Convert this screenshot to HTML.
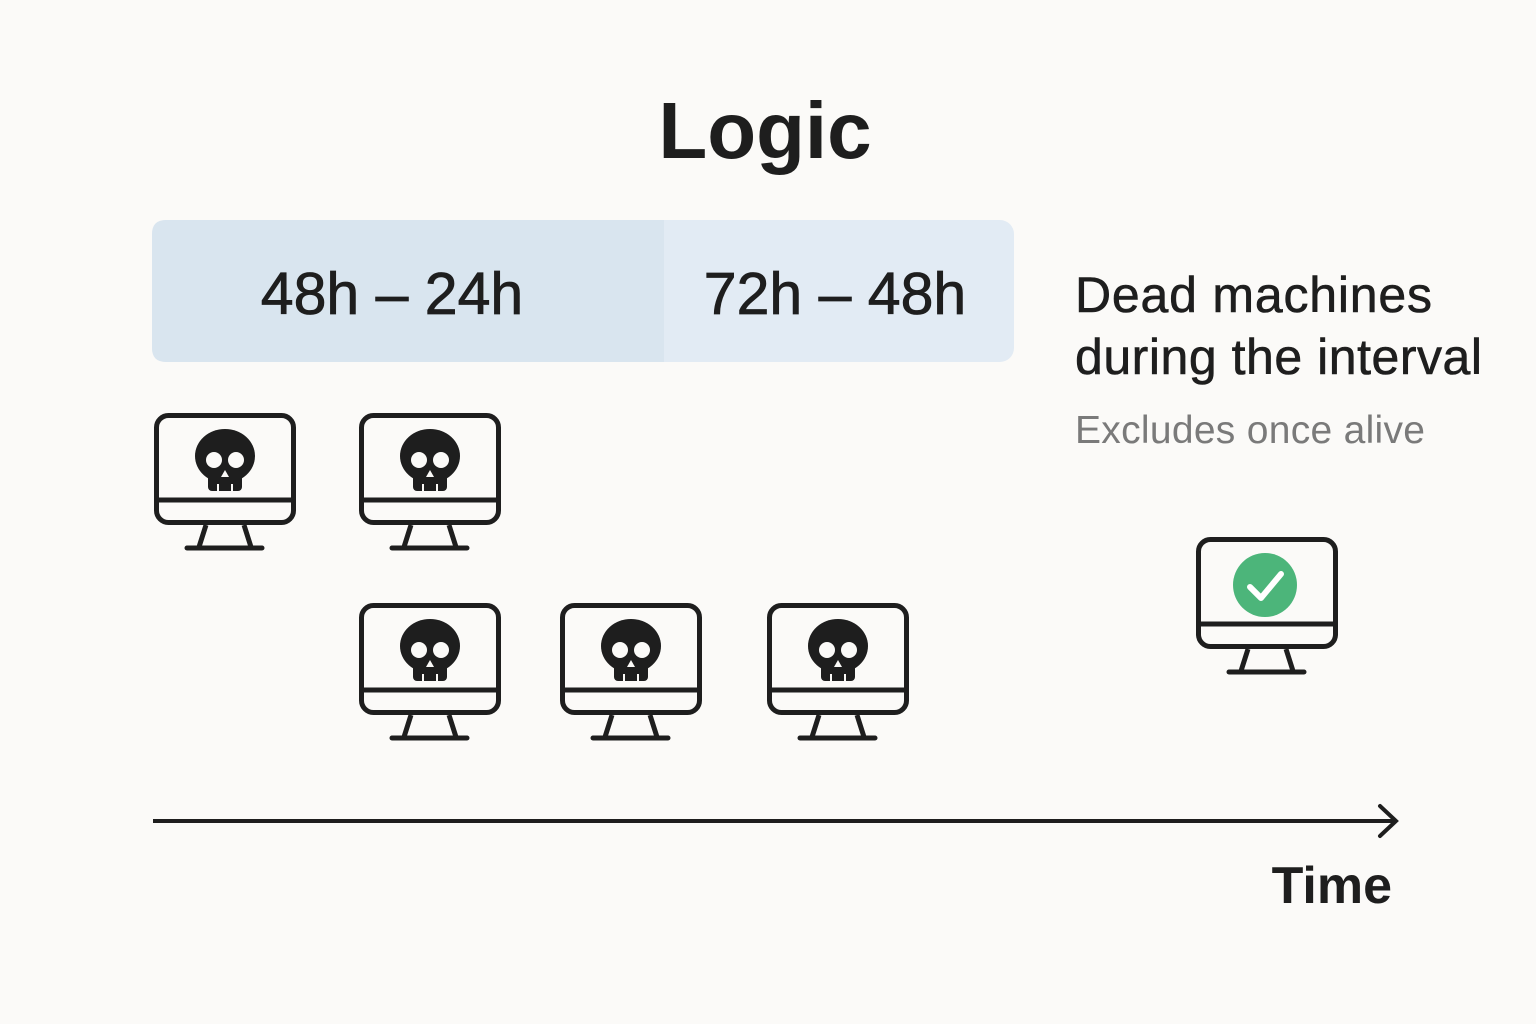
<!DOCTYPE html>
<html><head><meta charset="utf-8"><style>
body{margin:0;background:#fbfaf8;}
svg{display:block}
</style></head><body>
<svg width="1536" height="1024" viewBox="0 0 1536 1024" xmlns="http://www.w3.org/2000/svg">
<defs>
<g id="mon">
  <rect x="2.5" y="2.5" width="137" height="107" rx="12" fill="none" stroke="#1e1e1e" stroke-width="5"/>
  <line x1="2.5" y1="87" x2="139.5" y2="87" stroke="#1e1e1e" stroke-width="5"/>
  <path d="M52 112 L45 134 M90 112 L97 134" stroke="#1e1e1e" stroke-width="5" fill="none"/>
  <line x1="33" y1="135" x2="108" y2="135" stroke="#1e1e1e" stroke-width="5" stroke-linecap="round"/>
</g>
<g id="skull">
  <ellipse cx="30" cy="26" rx="30" ry="27" fill="#1e1e1e"/>
  <rect x="13" y="40" width="34" height="21" rx="4" fill="#1e1e1e"/>
  <circle cx="19" cy="30" r="8" fill="#fbfaf8"/>
  <circle cx="41" cy="30" r="8" fill="#fbfaf8"/>
  <path d="M30 40 L34 47 L26 47 Z" fill="#fbfaf8"/>
  <line x1="23" y1="54" x2="23" y2="62" stroke="#fbfaf8" stroke-width="2"/>
  <line x1="37" y1="54" x2="37" y2="62" stroke="#fbfaf8" stroke-width="2"/>
</g>
</defs>
<text x="765" y="158" text-anchor="middle" font-family="Liberation Sans, sans-serif" font-weight="bold" font-size="80" fill="#1e1e1e">Logic</text>
<rect x="152" y="220" width="862" height="142" rx="14" fill="#e2ebf4"/>
<path d="M166 220 H664 V362 H166 Q152 362 152 348 V234 Q152 220 166 220 Z" fill="#d9e5ef"/>
<text x="392" y="314" text-anchor="middle" font-family="Liberation Sans, sans-serif" font-size="59" fill="#1e1e1e" stroke="#1e1e1e" stroke-width="0.8">48h – 24h</text>
<text x="835" y="314" text-anchor="middle" font-family="Liberation Sans, sans-serif" font-size="59" fill="#1e1e1e" stroke="#1e1e1e" stroke-width="0.8">72h – 48h</text>
<text x="1075" y="312" font-family="Liberation Sans, sans-serif" font-size="50" textLength="357" fill="#1e1e1e" stroke="#1e1e1e" stroke-width="0.6">Dead machines</text>
<text x="1075" y="374" font-family="Liberation Sans, sans-serif" font-size="50" textLength="407" fill="#1e1e1e" stroke="#1e1e1e" stroke-width="0.6">during the interval</text>
<text x="1075" y="443" font-family="Liberation Sans, sans-serif" font-size="39" textLength="350" fill="#7a7a7a">Excludes once alive</text>
<use href="#mon" x="154" y="413"/><use href="#skull" x="195" y="430"/>
<use href="#mon" x="359" y="413"/><use href="#skull" x="400" y="430"/>
<use href="#mon" x="359" y="603"/><use href="#skull" x="400" y="620"/>
<use href="#mon" x="560" y="603"/><use href="#skull" x="601" y="620"/>
<use href="#mon" x="767" y="603"/><use href="#skull" x="808" y="620"/>
<use href="#mon" x="1196" y="537"/>
<circle cx="1265" cy="585" r="32" fill="#4cb57a"/>
<path d="M1250 587 L1261 598 L1281 574" stroke="#fff" stroke-width="6" fill="none" stroke-linecap="round" stroke-linejoin="round"/>
<line x1="153" y1="821" x2="1395" y2="821" stroke="#1e1e1e" stroke-width="4"/>
<path d="M1380 806 L1396 821 L1380 836" stroke="#1e1e1e" stroke-width="4" fill="none" stroke-linecap="round"/>
<text x="1392" y="903" text-anchor="end" font-family="Liberation Sans, sans-serif" font-weight="bold" font-size="52" fill="#1e1e1e">Time</text>
</svg>
</body></html>
